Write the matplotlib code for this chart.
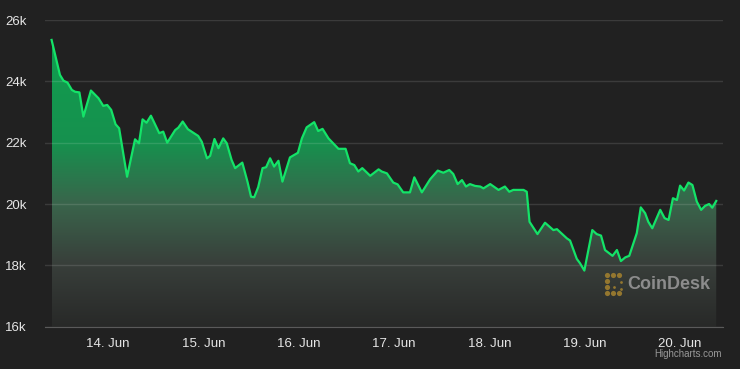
import numpy as np
import matplotlib.pyplot as plt
from matplotlib.patches import Polygon

plt.rcParams['font.family'] = ['Liberation Sans', 'DejaVu Sans']

# hours since 13 Jun 00:00 and BTC price (USD)
hours = [9.8, 11.9, 12.8, 13.8, 14.9, 15.7, 16.8, 17.8, 19.7, 21.6, 22.8, 23.8,
         24.8, 25.9, 26.8, 28.8, 30.8, 31.8, 32.7, 33.7, 34.8, 36.9, 37.9, 38.9,
         40.9, 41.7, 42.8, 44.1, 46.7, 47.6, 48.9, 49.7, 50.8, 51.8, 53.0, 53.9,
         55.1, 56.0, 57.8, 59.1, 60.0, 60.8, 61.8, 62.9, 63.8, 64.8, 65.8, 66.9,
         67.9, 69.8, 71.8, 72.8, 74.0, 75.9, 76.9, 78.0, 79.5, 82.0, 83.8, 84.9,
         86.0, 87.0, 88.0, 90.0, 92.1, 92.9, 94.2, 95.8, 96.9, 98.3, 100.0, 101.1,
         103.0, 105.1, 107.0, 108.4, 109.9, 110.9, 112.0, 113.1, 114.1, 115.1, 116.4, 117.7,
         118.5, 120.2, 122.3, 123.9, 125.0, 126.0, 128.6, 129.4, 130.1, 132.1, 134.0, 136.1,
         137.0, 139.5, 140.3, 142.0, 142.8, 143.9, 145.9, 147.0, 148.1, 149.1, 151.0, 152.1,
         153.1, 154.2, 155.2, 157.1, 158.1, 159.2, 160.0, 161.0, 163.0, 164.1, 165.1, 166.2,
         167.2, 168.0, 169.0, 170.1, 171.1, 172.2, 173.3, 174.3, 175.3, 176.1, 177.1]
price = [25350, 24210, 24020, 23960, 23720, 23660, 23640, 22850, 23700, 23450, 23200, 23230,
         23070, 22600, 22470, 20890, 22110, 21980, 22760, 22650, 22880, 22310, 22360, 22000,
         22410, 22490, 22690, 22440, 22220, 22030, 21490, 21570, 22120, 21820, 22140, 21980,
         21440, 21170, 21350, 20730, 20240, 20220, 20550, 21170, 21200, 21490, 21220, 21410,
         20730, 21520, 21670, 22140, 22500, 22670, 22380, 22450, 22140, 21800, 21800, 21330,
         21270, 21060, 21170, 20920, 21130, 21060, 21000, 20700, 20640, 20380, 20380, 20870,
         20380, 20810, 21090, 21020, 21110, 20980, 20650, 20780, 20570, 20650, 20590, 20570,
         20510, 20650, 20460, 20570, 20400, 20460, 20460, 20400, 19420, 19020, 19390, 19150,
         19180, 18880, 18810, 18210, 18070, 17830, 19150, 19020, 18970, 18500, 18310, 18500,
         18140, 18260, 18310, 19050, 19890, 19700, 19420, 19210, 19810, 19540, 19480, 20190,
         20130, 20600, 20440, 20700, 20620, 20080, 19810, 19940, 20000, 19880, 20100]

tick_hours = [24, 48, 72, 96, 120, 144, 168]
tick_labels = ['14. Jun', '15. Jun', '16. Jun', '17. Jun', '18. Jun', '19. Jun', '20. Jun']
y_ticks = [16000, 18000, 20000, 22000, 24000, 26000]
y_labels = ['16k', '18k', '20k', '22k', '24k', '26k']

bg = '#212121'
W, H = 740, 369
fig = plt.figure(figsize=(7.4, 3.69), dpi=100, facecolor=bg)
ax = fig.add_axes([45 / W, 1 - 326.7 / H, (723 - 45) / W, (326.7 - 20) / H])
ax.set_facecolor(bg)
ax.set_xlim(8.14, 178.8)
ax.set_ylim(16000, 26000)

# gradient area under the line (green at top, fading to grey)
verts = list(zip(hours, price)) + [(hours[-1], 16000), (hours[0], 16000)]
clip = Polygon(verts, closed=True, facecolor='none', edgecolor='none')
ax.add_patch(clip)
stops = [0.0, 0.2, 0.4, 0.6, 1.0]
stop_rgb = np.array([[40, 41, 40], [56, 62, 58], [58, 100, 75],
                     [22, 145, 78], [16, 160, 80]]) / 255
t = np.linspace(1, 0, 300)
grad = np.stack([np.interp(t, stops, stop_rgb[:, i]) for i in range(3)], axis=1)[:, None, :]
img = ax.imshow(grad, extent=[hours[0], hours[-1], 16000, 26000],
                aspect='auto', origin='upper', zorder=2)
img.set_clip_path(clip)

ax.plot(hours, price, color='#14e368', lw=1.6, zorder=3, solid_joinstyle='round')

ax.set_yticks(y_ticks)
ax.set_yticklabels(y_labels)
ax.set_xticks(tick_hours)
ax.set_xticklabels(tick_labels)
ax.set_axisbelow(False)
ax.grid(axis='y', color='white', alpha=0.12, lw=1)
for s in ['top', 'right', 'left']:
    ax.spines[s].set_visible(False)
ax.spines['bottom'].set_color('#5a5a5a')
ax.tick_params(axis='both', length=0, colors='#e6e6e6', labelsize=9.5)
ax.tick_params(axis='y', pad=13)
ax.tick_params(axis='x', pad=8)

# CoinDesk watermark
gold = '#94772f'
dots_x = [607, 613, 619, 607, 607, 607, 613, 619]
dots_y = [275, 275, 275, 281, 287, 293, 293, 293]
ax.scatter([x / W for x in dots_x], [1 - y / H for y in dots_y], s=14, color=gold,
           transform=fig.transFigure, clip_on=False, zorder=5, lw=0)
small_x = [621, 621, 614]
small_y = [282, 289, 287]
ax.scatter([x / W for x in small_x], [1 - y / H for y in small_y], s=4, color=gold,
           transform=fig.transFigure, clip_on=False, zorder=5, lw=0)
fig.text(627 / W, 1 - 284.5 / H, 'CoinDesk', fontsize=13, fontweight='bold',
         color='#8c8c8c', ha='left', va='center')

fig.text(722 / W, 1 - 354 / H, 'Highcharts.com', fontsize=7, color='#999999',
         ha='right', va='center')

fig.savefig('out.png', dpi=100, facecolor=bg)
